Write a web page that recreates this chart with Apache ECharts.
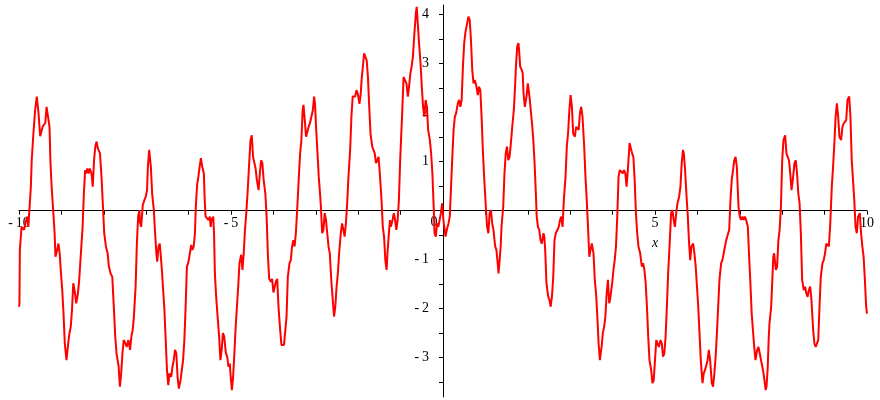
<!DOCTYPE html>
<html>
<head>
    <meta charset="utf-8">
    <title>plot</title>
    <script src="https://cdn.jsdelivr.net/npm/echarts@6/dist/echarts.min.js"></script>
</head>
<body style="margin:0;background:#fff;">
<div id="main" style="width: 880px;height:400px;"></div>
<script type="text/javascript">

    // curve, [x, y], left to right
    var segA = [[-10.0,-1.96],[-9.99,-1.90],[-9.98,-0.80],[-9.94,-0.33],[-9.88,-0.39],[-9.83,-0.19],[-9.80,-0.12],[-9.78,-0.33],[-9.76,-0.05],[-9.72,0.49],
        [-9.70,1.03],[-9.66,1.58],[-9.62,2.05],[-9.58,2.33],[-9.56,2.36],[-9.54,1.99],[-9.50,1.52],[-9.47,1.62],[-9.44,1.72],[-9.41,1.69],
        [-9.38,1.79],[-9.35,2.12],[-9.32,2.09],[-9.28,1.71],[-9.26,1.03],[-9.23,0.49],[-9.19,-0.05],[-9.16,-0.46],[-9.14,-0.94],[-9.10,-0.80],
        [-9.07,-0.67],[-9.04,-0.87],[-9.01,-1.28],[-8.98,-1.62],[-8.95,-2.10],[-8.92,-2.71],[-8.88,-3.05],[-8.84,-2.71],[-8.81,-2.50],[-8.78,-2.37],
        [-8.75,-2.03],[-8.72,-1.48],[-8.69,-1.62],[-8.65,-1.89],[-8.61,-1.69],[-8.58,-1.41],[-8.55,-1.00],[-8.50,-0.33],[-8.47,0.35],[-8.44,0.83],
        [-8.42,0.76],[-8.39,0.86],[-8.36,0.76],[-8.33,0.86],[-8.29,0.76],[-8.26,0.49],[-8.23,1.03],[-8.20,1.31],[-8.17,1.41],[-8.14,1.27],
        [-8.09,1.17],[-8.05,0.63],[-8.02,0.08],[-7.99,-0.46],[-7.95,-0.73],[-7.91,-0.87],[-7.88,-1.14],[-7.84,-1.28],[-7.80,-1.35],[-7.76,-2.03],
        [-7.73,-2.57],[-7.70,-2.91],[-7.65,-3.18],[-7.62,-3.59],[-7.59,-3.32],[-7.56,-2.91],[-7.53,-2.64],[-7.49,-2.71],[-7.46,-2.78],[-7.42,-2.64],
        [-7.38,-2.84],[-7.35,-2.57],[-7.32,-2.44],[-7.29,-2.16],[-7.25,-1.55],[-7.22,-0.67],[-7.19,-0.12],[-7.16,0.01]];

    var segB = [[-7.15,-0.22],[-7.12,-0.33],[-7.10,-0.12],[-7.08,0.12],[-7.04,0.22],[-7.01,0.29],[-6.98,0.42],[-6.96,0.90],[-6.93,1.24],[-6.91,1.28],
        [-6.89,0.90],[-6.86,0.35],[-6.82,0.01],[-6.79,-0.46],[-6.76,-0.87],[-6.74,-1.04],[-6.71,-0.73],[-6.68,-0.67],[-6.66,-0.87],[-6.63,-1.21],
        [-6.60,-1.62],[-6.57,-2.03],[-6.54,-2.64],[-6.51,-3.25],[-6.48,-3.56],[-6.45,-3.32],[-6.41,-3.39],[-6.38,-3.18],[-6.35,-3.05],[-6.32,-2.84],
        [-6.29,-2.91],[-6.26,-3.39],[-6.23,-3.63],[-6.19,-3.46],[-6.16,-3.25],[-6.13,-3.05],[-6.10,-2.64],[-6.07,-1.96],[-6.04,-1.14],[-6.01,-1.07],
        [-5.97,-0.87],[-5.94,-0.70],[-5.91,-0.80],[-5.88,-0.73],[-5.85,-0.46],[-5.83,0.08],[-5.80,0.52],[-5.77,0.69],[-5.74,0.90],[-5.71,1.07],
        [-5.68,0.90],[-5.64,0.76],[-5.62,0.22],[-5.60,-0.12],[-5.57,-0.12],[-5.53,-0.19],[-5.50,-0.12],[-5.48,-0.33],[-5.46,-0.19],[-5.42,-0.12],
        [-5.40,-0.46],[-5.38,-1.28],[-5.35,-1.76],[-5.31,-2.23],[-5.28,-2.57],[-5.25,-3.05],[-5.22,-2.84],[-5.19,-2.50],[-5.16,-2.57],[-5.12,-2.91],
        [-5.09,-2.98],[-5.06,-3.18],[-5.03,-3.12],[-5.00,-3.46],[-4.98,-3.66],[-4.95,-3.39],[-4.92,-2.91],[-4.89,-2.37],[-4.86,-1.96],[-4.83,-1.55],
        [-4.80,-1.07],[-4.76,-0.90],[-4.73,-1.21],[-4.70,-0.87],[-4.67,-0.39],[-4.64,-0.05],[-4.61,0.35],[-4.58,0.83],[-4.54,1.44],[-4.51,1.54],
        [-4.48,1.10],[-4.45,1.14],[-4.42,0.86],[-4.39,0.63],[-4.35,0.42],[-4.32,0.76],[-4.29,1.03],[-4.26,0.97],[-4.23,0.63],[-4.19,0.35]];

    var segC = [[-4.16,-0.12],[-4.13,-0.90],[-4.10,-1.39],[-4.06,-1.45],[-4.03,-1.39],[-4.00,-1.67],[-3.97,-1.55],[-3.94,-1.45],[-3.91,-1.39],[-3.88,-1.96],
        [-3.84,-2.44],[-3.81,-2.74],[-3.78,-2.78],[-3.75,-2.74],[-3.72,-2.71],[-3.69,-2.16],[-3.66,-1.35],[-3.62,-1.07],[-3.59,-1.01],[-3.56,-0.73],
        [-3.53,-0.60],[-3.50,-0.73],[-3.47,-0.46],[-3.44,0.01],[-3.40,0.69],[-3.37,1.17],[-3.34,1.44],[-3.31,2.05],[-3.29,2.16],[-3.26,1.85],
        [-3.23,1.51],[-3.20,1.51],[-3.17,1.71],[-3.14,1.78],[-3.11,1.82],[-3.07,2.05],[-3.04,2.33],[-3.02,2.19],[-2.99,1.65],[-2.96,1.17],
        [-2.93,0.69],[-2.90,0.35],[-2.88,0.08],[-2.85,-0.46],[-2.82,-0.39],[-2.79,-0.05],[-2.76,-0.19],[-2.73,-0.46],[-2.70,-0.73],[-2.67,-0.87],
        [-2.63,-1.48],[-2.60,-1.82],[-2.57,-2.16],[-2.54,-1.96],[-2.51,-1.55],[-2.48,-1.28],[-2.45,-0.87],[-2.41,-0.46],[-2.38,-0.26],[-2.35,-0.39],
        [-2.32,-0.53],[-2.29,-0.26],[-2.26,0.15],[-2.23,0.69],[-2.19,1.24],[-2.16,1.92],[-2.13,2.33],[-2.10,2.36],[-2.07,2.33],[-2.04,2.46],
        [-2.01,2.39],[-1.97,2.18],[-1.94,2.39],[-1.92,2.67],[-1.89,2.94],[-1.86,3.21],[-1.83,3.14],[-1.80,3.07],[-1.77,2.73],[-1.74,2.12],
        [-1.71,1.58],[-1.67,1.31],[-1.64,1.27],[-1.61,1.17],[-1.58,0.97],[-1.55,1.03],[-1.52,1.10],[-1.49,0.76],[-1.45,0.22],[-1.42,-0.33],
        [-1.39,-0.53],[-1.36,-1.01],[-1.33,-1.21]];

    var segD = [[-1.31,-0.87],[-1.27,-0.39],[-1.25,-0.19],[-1.23,-0.33],[-1.19,-0.19],[-1.16,-0.05],[-1.13,-0.19],[-1.10,-0.39],[-1.07,-0.19],[-1.04,0.22],
        [-1.01,1.03],[-0.99,1.44],[-0.96,2.05],[-0.93,2.73],[-0.90,2.73],[-0.86,2.59],[-0.83,2.33],[-0.80,2.53],[-0.77,2.80],[-0.74,2.94],
        [-0.71,3.14],[-0.68,3.55],[-0.64,4.03],[-0.62,4.16],[-0.60,3.89],[-0.57,3.48],[-0.53,3.01],[-0.50,2.53],[-0.47,2.12],[-0.44,1.92],
        [-0.41,2.26],[-0.38,2.12],[-0.35,1.65],[-0.31,1.44],[-0.28,1.17],[-0.25,0.76],[-0.22,0.08],[-0.20,-0.46],[-0.17,-0.53],[-0.14,-0.26],
        [-0.11,-0.33],[-0.08,-0.33],[-0.05,-0.05],[-0.02,0.15],[0.01,-0.19],[0.03,-0.33],[0.06,-0.53],[0.09,-0.39],[0.13,-0.26],[0.16,-0.12],
        [0.19,0.49],[0.22,1.10],[0.25,1.65],[0.28,1.92],[0.31,1.99],[0.35,2.19],[0.38,2.26],[0.41,2.12],[0.44,2.26],[0.47,2.94],
        [0.50,3.42],[0.53,3.65],[0.57,3.69],[0.60,3.96],[0.63,3.89],[0.66,3.48],[0.69,2.87],[0.72,2.60],[0.75,2.67],[0.79,2.53],
        [0.82,2.36],[0.85,2.53],[0.88,2.46],[0.91,1.92],[0.94,1.24],[0.97,0.69],[1.01,0.08],[1.04,-0.33],[1.07,-0.46],[1.10,-0.05],
        [1.13,0.01],[1.16,-0.26],[1.19,-0.39],[1.23,-0.73],[1.26,-0.80],[1.29,-1.07],[1.31,-1.28],[1.33,-1.07],[1.36,-0.73],[1.38,-0.33],
        [1.42,0.08],[1.45,0.76],[1.48,1.17],[1.51,1.31],[1.54,1.03],[1.57,1.10],[1.60,1.37]];

    var segE = [[1.64,1.78],[1.67,2.05],[1.70,2.53],[1.72,2.94],[1.75,3.35],[1.78,3.42],[1.80,3.21],[1.82,2.94],[1.86,2.87],[1.88,2.80],
        [1.90,2.39],[1.93,2.12],[1.95,2.09],[1.97,2.33],[2.00,2.60],[2.02,2.60],[2.04,2.33],[2.07,2.05],[2.10,1.78],[2.13,1.44],
        [2.16,0.97],[2.19,0.35],[2.21,-0.12],[2.24,-0.33],[2.27,-0.39],[2.30,-0.60],[2.33,-0.67],[2.37,-0.46],[2.39,-0.53],[2.41,-0.80],
        [2.44,-1.48],[2.48,-1.75],[2.51,-1.82],[2.54,-1.96],[2.57,-1.75],[2.60,-1.35],[2.63,-0.60],[2.66,-0.46],[2.70,-0.39],[2.73,-0.33],
        [2.76,-0.19],[2.79,-0.12],[2.82,-0.33],[2.85,0.22],[2.89,0.69],[2.92,1.31],[2.95,1.58],[2.98,2.05],[3.01,2.36],[3.04,2.12],
        [3.07,1.58],[3.11,1.51],[3.14,1.71],[3.17,1.71],[3.20,1.65],[3.23,1.99],[3.26,2.12],[3.29,1.92],[3.33,1.31],[3.36,0.69],
        [3.39,0.22],[3.42,-0.33],[3.45,-0.94],[3.48,-0.80],[3.51,-0.67],[3.55,-0.87],[3.58,-1.41],[3.61,-1.69],[3.64,-2.16],[3.67,-2.71],
        [3.70,-3.05],[3.74,-2.78],[3.77,-2.50],[3.80,-2.37],[3.83,-2.16],[3.86,-1.69],[3.89,-1.41],[3.92,-1.89],[3.95,-1.76],[3.99,-1.48],
        [4.02,-1.21],[4.05,-1.01],[4.08,-0.73],[4.11,-0.12],[4.14,0.69],[4.17,0.83],[4.21,0.80],[4.24,0.76],[4.27,0.83],[4.30,0.76],
        [4.33,0.49],[4.36,0.83],[4.40,1.38],[4.43,1.41],[4.46,1.17],[4.49,1.10],[4.52,0.63],[4.55,-0.05],[4.58,-0.46],[4.61,-0.73],
        [4.65,-0.87]];

    var segF = [[4.69,-1.14],[4.72,-1.07],[4.75,-1.21],[4.78,-1.48],[4.81,-1.96],[4.84,-2.57],[4.87,-3.05],[4.91,-3.25],[4.94,-3.52],[4.97,-3.46],
        [5.00,-3.05],[5.03,-2.64],[5.06,-2.71],[5.09,-2.78],[5.13,-2.64],[5.16,-2.71],[5.19,-2.98],[5.22,-2.91],[5.25,-2.57],[5.28,-1.96],
        [5.31,-1.28],[5.35,-0.60],[5.38,-0.05],[5.41,0.01],[5.44,-0.19],[5.47,-0.33],[5.50,-0.05],[5.53,0.15],[5.57,0.29],[5.60,0.49],
        [5.63,0.97],[5.66,1.24],[5.68,1.17],[5.71,0.83],[5.74,0.35],[5.77,-0.05],[5.80,-0.60],[5.83,-1.01],[5.86,-0.73],[5.90,-0.67],
        [5.93,-0.87],[5.96,-1.14],[5.99,-1.55],[6.02,-1.96],[6.05,-2.50],[6.08,-3.05],[6.12,-3.52],[6.15,-3.32],[6.18,-3.25],[6.21,-3.25],
        [6.24,-3.05],[6.27,-2.84],[6.30,-3.05],[6.34,-3.52],[6.37,-3.59],[6.40,-3.32],[6.43,-2.98],[6.46,-2.50],[6.49,-1.96],[6.52,-1.41],
        [6.56,-1.07],[6.59,-1.01],[6.62,-0.87],[6.65,-0.73],[6.68,-0.60],[6.71,-0.60],[6.75,-0.39],[6.78,0.22],[6.81,0.63],[6.84,0.83],
        [6.87,1.03],[6.90,1.10],[6.93,0.90],[6.97,0.08],[7.00,-0.12],[7.03,-0.19],[7.06,-0.12],[7.09,-0.19],[7.12,-0.12],[7.15,-0.19],
        [7.19,-0.33],[7.22,-0.94],[7.25,-1.48],[7.28,-2.09],[7.31,-2.44],[7.34,-2.78],[7.37,-3.05],[7.41,-2.84],[7.44,-2.78],[7.47,-2.91],
        [7.50,-3.05],[7.53,-3.18],[7.56,-3.32]];

    var segG = [[7.61,-3.66],[7.63,-3.59],[7.66,-3.18],[7.68,-2.64],[7.70,-2.30],[7.74,-1.96],[7.77,-1.35],[7.79,-0.94],[7.81,-0.87],[7.85,-1.21],
        [7.88,-1.14],[7.91,-0.60],[7.94,-0.39],[7.97,0.08],[8.00,1.03],[8.03,1.44],[8.07,1.54],[8.10,1.17],[8.13,1.10],[8.16,1.03],
        [8.19,0.76],[8.22,0.42],[8.25,0.63],[8.29,0.97],[8.32,1.03],[8.35,0.76],[8.38,0.35],[8.41,0.15],[8.44,-0.46],[8.47,-1.41],
        [8.51,-1.62],[8.54,-1.55],[8.57,-1.69],[8.60,-1.76],[8.63,-1.62],[8.66,-1.55],[8.69,-1.82],[8.73,-2.44],[8.76,-2.71],[8.79,-2.78],
        [8.82,-2.78],[8.85,-2.64],[8.88,-1.96],[8.91,-1.35],[8.95,-1.07],[8.98,-1.01],[9.01,-0.87],[9.04,-0.67],[9.07,-0.63],[9.10,-0.73],
        [9.13,-0.33],[9.17,0.49],[9.20,0.90],[9.23,1.37],[9.26,1.92],[9.29,2.19],[9.32,1.92],[9.35,1.51],[9.39,1.44],[9.42,1.71],
        [9.45,1.78],[9.48,1.78],[9.51,1.85],[9.54,2.26],[9.58,2.33],[9.61,1.92],[9.64,1.03],[9.67,0.63],[9.70,0.22],[9.73,-0.33],
        [9.76,-0.46],[9.79,-0.12],[9.83,-0.05],[9.86,-0.46],[9.89,-0.73],[9.92,-0.94],[9.95,-1.41],[9.98,-1.96],[10.0,-2.10]];

    // ticks and labels
    var xTicks = [-10, -9, -8, -7, -6, -5, -4, -3, -2, -1, 1, 2, 3, 4, 5, 6, 7, 8, 9, 10];
    var xLabels = [-10, -5, 5, 10];
    var yTicks = [-3.5, -3, -2.5, -2, -1.5, -1, -0.5, 0.5, 1, 1.5, 2, 2.5, 3, 3.5, 4];
    var yLabels = [-3, -2, -1, 1, 2, 3, 4];

    var curve = segA.concat(segB, segC, segD, segE, segF, segG);

    var xMin = -10, xMax = 10, yMin = -3.8, yMax = 4.2;
    var gridLeft = 19, gridRight = 13, gridTop = 4.9, gridBottom = 3.1;
    var W = 880, H = 400;
    // move the axes onto the origin
    var gridH = H - gridTop - gridBottom;
    var gridW = W - gridLeft - gridRight;
    var xOff = -gridH * (0 - yMin) / (yMax - yMin);
    var yOff = -gridW * (0 - xMin) / (xMax - xMin);

    var font = 'Liberation Serif';
    function fmt(v) {
        return v < 0 ? '-\u2009' + (-v) : String(v);
    }

    var myChart = echarts.init(document.getElementById('main'));
    var option = {
        animation: false,
        backgroundColor: '#fff',
        grid: {left: gridLeft, right: gridRight, top: gridTop, bottom: gridBottom,
            containLabel: false, outerBoundsMode: 'none'},
        xAxis: {
            type: 'value',
            min: xMin,
            max: xMax,
            position: 'bottom',
            offset: xOff,
            axisLine: {onZero: false, lineStyle: {color: '#000', width: 1}},
            axisTick: {show: true, customValues: xTicks, length: 4, lineStyle: {color: '#000'}},
            axisLabel: {
                customValues: xLabels, formatter: fmt, margin: 6, color: '#000',
                fontFamily: font, fontSize: 14
            },
            splitLine: {show: false}
        },
        yAxis: {
            type: 'value',
            min: yMin,
            max: yMax,
            position: 'left',
            offset: yOff,
            axisLine: {onZero: false, lineStyle: {color: '#000', width: 1}},
            axisTick: {show: true, customValues: yTicks, length: 4, lineStyle: {color: '#000'}},
            axisLabel: {
                customValues: yLabels, formatter: fmt, margin: 14, color: '#000',
                fontFamily: font, fontSize: 14
            },
            splitLine: {show: false}
        },
        series: [{
            type: 'line',
            data: curve,
            showSymbol: false,
            symbol: 'none',
            clip: false,
            lineStyle: {color: '#ff0000', width: 2}
        }]
    };
    myChart.setOption(option);

    // origin label "0" and axis name "x"
    var o = myChart.convertToPixel({gridIndex: 0}, [0, 0]);
    var p = myChart.convertToPixel({gridIndex: 0}, [5, 0]);
    myChart.setOption({
        graphic: [{
            type: 'text',
            x: o[0] - 9,
            y: o[1] + 12,
            style: {
                text: '0', fill: '#000', font: '14px "Liberation Serif"',
                textAlign: 'center', textVerticalAlign: 'middle'
            }
        }, {
            type: 'text',
            x: p[0],
            y: p[1] + 33,
            style: {
                text: 'x', fill: '#000', font: 'italic 14px "Liberation Serif"',
                textAlign: 'center', textVerticalAlign: 'middle'
            }
        }]
    });
</script>
</body>
</html>
